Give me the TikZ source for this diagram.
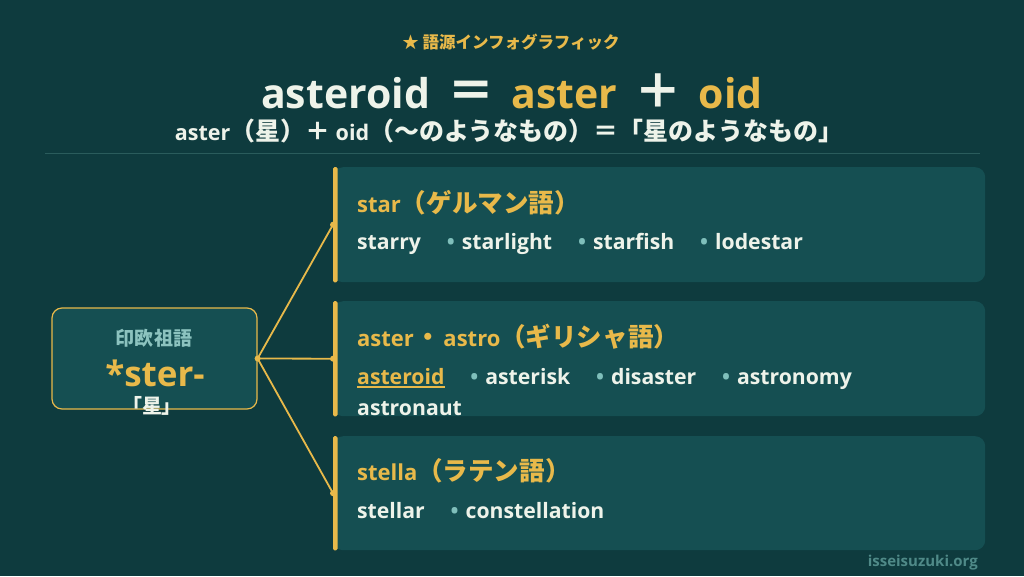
\documentclass[tikz,border=0pt]{standalone}
\usepackage{fontspec}
\setmainfont{Open Sans}
\newfontfamily\jpf{Noto Sans CJK JP}[Scale=1.16]
\usetikzlibrary{positioning}
\definecolor{bgc}{HTML}{0E3B3E}
\definecolor{cardc}{HTML}{154F52}
\definecolor{gold}{HTML}{E8B94A}
\definecolor{lite}{HTML}{EEF3EA}
\definecolor{muted}{HTML}{8CC3BF}
\definecolor{dotc}{HTML}{7FBFBB}
\definecolor{foot}{HTML}{4F8A88}
\definecolor{rule}{HTML}{2A5C5C}
\newcommand{\fs}[1]{\bfseries\fontsize{#1}{#1}\selectfont}
\newcommand{\jp}[1]{{\jpf #1}}
\newcommand{\dotm}{\textcolor{dotc}{•}\hspace{7pt}}
\tikzset{
	txt/.style={inner sep=0pt, anchor=base west, text=lite, font=\fs{21.2}},
	head/.style={txt, text=gold, font=\fs{22}},
	card/.style={fill=cardc, rounded corners=10pt, anchor=north west, minimum width=652, minimum height=115, inner sep=0pt},
	bar/.style={fill=gold, rounded corners=1.5pt},
	link/.style={draw=gold, line width=1.8pt}
}
\begin{document}
\begin{tikzpicture}[x=1pt,y=-1pt]
	\useasboundingbox[fill=bgc] (0,0) rectangle (1024,576);
	\node[txt, anchor=base, text=gold, font=\fs{14.2}] (tag) at (511,48) {\jp{★ 語源インフォグラフィック}};
	\node[txt, anchor=base, font=\fs{41}] (title) at (512,108) {asteroid\hspace{17pt}\jp{＝}\hspace{17pt}\textcolor{gold}{aster}\hspace{17pt}\jp{＋}\hspace{17pt}\textcolor{gold}{oid}};
	\node[txt, anchor=base, font=\fs{21.5}] (sub) at (509,140) {aster\jp{（星）＋} oid\jp{（〜のようなもの）＝「星のようなもの」}};
	\draw[rule, line width=0.8pt] (45,153) -- (980,153);

	\node[fill=cardc, draw=gold, line width=1.2pt, rounded corners=10pt, minimum width=205, minimum height=101] (root) at (154.5,358.5) {};
	\node[txt, anchor=base, text=muted, font=\fs{16.4}] (pie) at (154,345) {\jp{印欧祖語}};
	\node[txt, anchor=base, text=gold, font=\fs{35}] (ster) at (155,386) {*ster-};
	\node[txt, anchor=base, font=\fs{17.2}] (hoshi) at (152,413) {\jp{「星」}};

	\node[card] (g1) at (333,167) {};
	\node[card] (g2) at (333,301) {};
	\node[card, minimum height=114] (g3) at (333,436) {};
	\foreach \g in {g1,g2,g3}
		\fill[bar] (\g.north west) rectangle ([xshift=4.5pt]\g.south west);

	\coordinate (hub) at (root.east);
	\draw[link] (g1.west) -- (hub) -- (g2.west);
	\draw[link] (hub) -- (g3.west);
	\foreach \p in {hub,g1.west,g2.west,g3.west}
		\fill[gold] (\p) circle (3pt);

	\node[head] (h1) at (357,212) {star\jp{（ゲルマン語）}};
	\node[txt] (w11) at (357,249) {starry};
	\node[txt, base right=25.5pt of w11] (w12) {\dotm starlight};
	\node[txt, base right=25.5pt of w12] (w13) {\dotm starfish};
	\node[txt, base right=25.5pt of w13] (w14) {\dotm lodestar};

	\node[head] (h2) at (357,346) {aster\hspace{2pt}\jp{・}\hspace{2pt}astro\jp{（ギリシャ語）}};
	\node[txt, text=gold] (w21) at (357,384) {asteroid};
	\draw[gold, line width=1.5pt] ([yshift=-3pt]w21.base west) -- ([yshift=-3pt]w21.base east);
	\node[txt, base right=25.5pt of w21] (w22) {\dotm asterisk};
	\node[txt, base right=25.5pt of w22] (w23) {\dotm disaster};
	\node[txt, base right=25.5pt of w23] (w24) {\dotm astronomy};
	\node[txt] (w25) at (357,415) {astronaut};

	\node[head] (h3) at (357,480) {stella\jp{（ラテン語）}};
	\node[txt] (w31) at (357,518) {stellar};
	\node[txt, base right=25.5pt of w31] (w32) {\dotm constellation};

	\node[txt, anchor=base east, text=foot, font=\fs{15}] (site) at (978,566) {isseisuzuki.org};
\end{tikzpicture}
\end{document}
